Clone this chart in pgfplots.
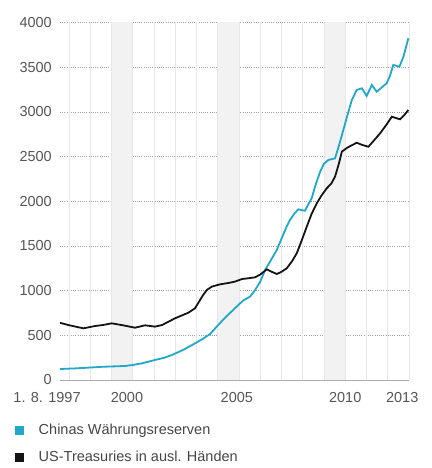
\documentclass[border=0pt]{standalone}
\usepackage{fontspec}
\setmainfont{Liberation Sans}
\usepackage{pgfplots}
\pgfplotsset{compat=1.18}
\definecolor{cnblue}{RGB}{33,168,200}
\definecolor{band}{RGB}{242,242,242}
\definecolor{vgrid}{RGB}{232,232,232}
\definecolor{hgrid}{RGB}{160,160,160}
\definecolor{labelgray}{RGB}{85,85,85}
\definecolor{textgray}{RGB}{70,70,70}
\begin{document}
\begin{tikzpicture}
\path[use as bounding box] (0,0) rectangle (431pt,468pt);
\begin{axis}[
  at={(60pt,88pt)}, anchor=south west,
  scale only axis, width=349pt, height=357.5pt,
  xmin=1997.58, xmax=2014.0, ymin=0, ymax=4000,
  clip=false,
  axis line style={draw=none},
  major tick length=0pt, minor tick length=0pt,
  xtick={2000.73,2005.9,2011.0,2013.68},
  xticklabels={2000,2005,2010,2013},
  ytick={0,500,...,4000},
  ymajorgrids=true,
  major y grid style={hgrid, line width=0.7pt, dash pattern=on 0.8pt off 1.4pt},
  /pgf/number format/assume math mode=true,
  /pgf/number format/1000 sep={},
  tick label style={font=\fontsize{14.5}{17}\selectfont, text=labelgray},
  yticklabel style={anchor=east, inner sep=0pt, xshift=-8pt},
  xticklabel style={anchor=north, inner sep=0pt, yshift=-12pt},
  legend style={at={(axis description cs:-0.13,-0.118)}, anchor=north west,
    draw=none, fill=none, inner sep=0pt, row sep=11pt,
    font=\fontsize{14.5}{17}\selectfont, text=textgray,
    legend cell align=left},
  legend image code/.code={\fill[#1] (0pt,-3.6pt) rectangle (7.4pt,3.6pt); \path[draw=none,fill=none] (0pt,0pt) rectangle (21pt,0.1pt);},
]
% shaded years
\addplot[fill=band, draw=none, forget plot] coordinates {(2000,0) (2000,4000) (2001,4000) (2001,0)} -- cycle;
\addplot[fill=band, draw=none, forget plot] coordinates {(2005,0) (2005,4000) (2006,4000) (2006,0)} -- cycle;
\addplot[fill=band, draw=none, forget plot] coordinates {(2010,0) (2010,4000) (2011,4000) (2011,0)} -- cycle;
% year lines
\pgfplotsinvokeforeach{1998,...,2014}{
  \addplot[vgrid, line width=0.6pt, forget plot] coordinates {(#1,0) (#1,4000)};
}
% zero line
\addplot[hgrid!90, line width=0.9pt, forget plot] coordinates {(1997.58,0) (2014,0)};
% China reserves
\addplot[cnblue, line width=1.8pt] coordinates {
(1997.58,123) (1998.3,130) (1998.90,138) (1999.6,148) (2000.64,157) (2001.0,168)
(2001.44,187) (2002.05,224) (2002.5,250) (2002.85,280) (2003.4,340) (2003.93,410)
(2004.3,460) (2004.64,515) (2005.02,615) (2005.4,710) (2005.82,805) (2006.2,890)
(2006.52,932) (2006.76,1007) (2007.0,1100) (2007.23,1231) (2007.5,1340) (2007.78,1455)
(2008.0,1580) (2008.25,1720) (2008.40,1790) (2008.6,1860) (2008.79,1910) (2008.95,1900)
(2009.11,1894) (2009.25,1960) (2009.42,2033) (2009.6,2180) (2009.82,2331) (2010.0,2420)
(2010.21,2462) (2010.52,2480) (2010.7,2620) (2010.91,2797) (2011.1,2960) (2011.31,3133)
(2011.54,3245) (2011.78,3264) (2012.01,3178) (2012.25,3301) (2012.48,3226) (2012.7,3270)
(2012.95,3320) (2013.1,3400) (2013.26,3525) (2013.55,3506) (2013.74,3618) (2013.97,3824)
};
\addlegendentry{Chinas Währungsreserven}
% US Treasuries
\addplot[black!92, line width=1.8pt] coordinates {
(1997.58,640) (1997.97,615) (1998.35,595) (1998.68,578) (1999.23,604) (1999.6,615)
(2000.01,634) (2000.48,615) (2001.11,585) (2001.58,612) (2002.05,597) (2002.38,615)
(2002.99,690) (2003.62,753) (2003.93,802) (2004.17,895) (2004.31,950) (2004.5,1010)
(2004.73,1045) (2005.1,1070) (2005.49,1085) (2005.8,1100) (2006.15,1130) (2006.5,1140)
(2006.76,1149) (2007.0,1180) (2007.31,1238) (2007.55,1210) (2007.78,1186) (2008.0,1210)
(2008.25,1250) (2008.5,1330) (2008.72,1418) (2008.95,1560) (2009.19,1716) (2009.42,1860)
(2009.66,1977) (2009.9,2070) (2010.13,2145) (2010.35,2200) (2010.52,2275) (2010.7,2420)
(2010.84,2555) (2011.1,2600) (2011.54,2655) (2011.8,2630) (2012.09,2610) (2012.35,2680)
(2012.64,2760) (2012.95,2860) (2013.19,2946) (2013.4,2930) (2013.58,2917) (2013.8,2970)
(2013.97,3021)
};
\addlegendentry{US-Treasuries in ausl. Händen}
\node[anchor=north, inner sep=0pt, font=\fontsize{14.5}{17}\selectfont, text=labelgray]
  at ([yshift=-12pt]axis cs:1996.97,0) {1. 8. 1997};
\end{axis}
\end{tikzpicture}
\end{document}
